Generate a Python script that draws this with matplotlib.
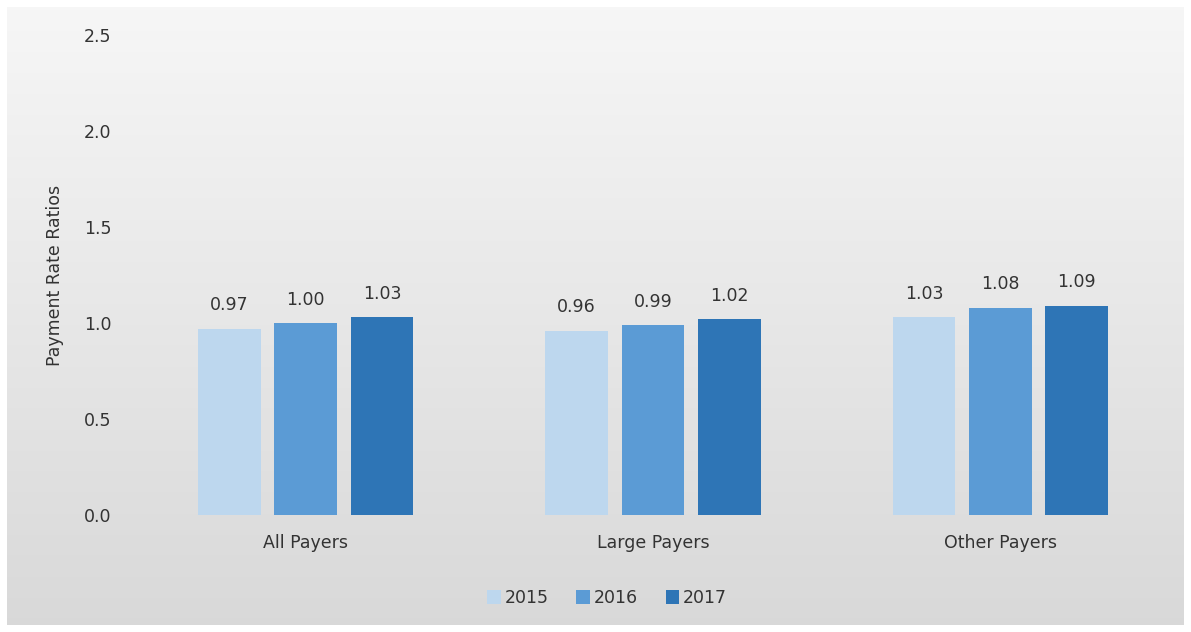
import numpy as np
import matplotlib
matplotlib.use("Agg")
import matplotlib.pyplot as plt
from matplotlib.patches import Patch

categories = ["All Payers", "Large Payers", "Other Payers"]
years = ["2015", "2016", "2017"]
values = {
    "2015": [0.97, 0.96, 1.03],
    "2016": [1.00, 0.99, 1.08],
    "2017": [1.03, 1.02, 1.09],
}
colors = ["#BDD7EE", "#5B9BD5", "#2E75B6"]
yticks = [0.0, 0.5, 1.0, 1.5, 2.0, 2.5]

plt.rcParams["font.family"] = ["DejaVu Sans"]

W, H = 1191, 632
fig = plt.figure(figsize=(W / 100, H / 100), dpi=100)
fig.patch.set_facecolor("white")

# gradient chart area background
bg = fig.add_axes([7 / W, 7 / H, (W - 14) / W, (H - 14) / H])
grad = np.linspace(0.965, 0.85, 256).reshape(-1, 1)
bg.imshow(np.dstack([grad, grad, grad]), aspect="auto", extent=[0, 1, 0, 1])
bg.set_axis_off()

ax = fig.add_axes([132 / W, (H - 515) / H, (1174 - 132) / W, (515 - 35) / H])
ax.patch.set_alpha(0)

x = np.arange(len(categories)) + 0.5
width = 0.18
offset = 0.22
fs = 12.5
for i, yr in enumerate(years):
    xs = x + (i - 1) * offset
    bars = ax.bar(xs, values[yr], width=width, color=colors[i], label=yr)
    for b, v in zip(bars, values[yr]):
        ax.text(b.get_x() + b.get_width() / 2, v + 0.075, f"{v:.2f}",
                ha="center", va="bottom", fontsize=fs, color="#333333")

ax.set_xlim(0, 3)
ax.set_ylim(0, 2.5)
ax.set_yticks(yticks)
ax.set_yticklabels([f"{t:.1f}" for t in yticks])
ax.set_xticks(x)
ax.set_xticklabels(categories)
ax.tick_params(axis="both", length=0, labelsize=fs, colors="#333333")
ax.tick_params(axis="y", pad=15)
ax.tick_params(axis="x", pad=14)
for s in ax.spines.values():
    s.set_visible(False)
ax.set_ylabel("Payment Rate Ratios", fontsize=fs, color="#333333", labelpad=14)

handles = [Patch(facecolor=c, label=y) for c, y in zip(colors, years)]
fig.legend(handles=handles, loc="center", bbox_to_anchor=(607 / W, 1 - 598 / H),
           ncol=3, frameon=False, fontsize=fs, handlelength=0.8, handleheight=0.8,
           handletextpad=0.2, columnspacing=1.6, labelcolor="#333333")

fig.savefig("out.png", dpi=100, facecolor="white")
